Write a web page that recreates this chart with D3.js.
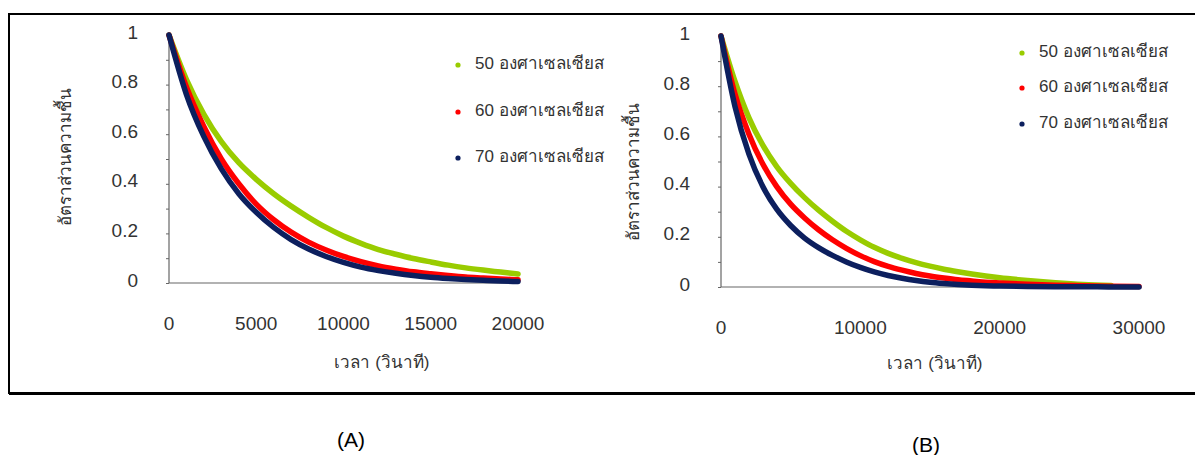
<!doctype html>
<html lang="th">
  <head>
    <meta charset="utf-8">
    <title>Moisture ratio</title>
    <script src="https://d3js.org/d3.v7.min.js"></script>
    <style>
      body { margin: 0; background: #fff; }
      text { font-family: "Liberation Sans", "Noto Sans", sans-serif; fill: #333; }
    </style>
  </head>
  <body>
    <div id="chart"></div>
    <script>

      // tick labels
      const yTicks = [0, 0.2, 0.4, 0.6, 0.8, 1];
      const xTicksA = [0, 5000, 10000, 15000, 20000];
      const xTicksB = [0, 10000, 20000, 30000];

      const seriesNames = ["50 องศาเซลเซียส", "60 องศาเซลเซียส", "70 องศาเซลเซียส"];
      const seriesNamesB = ["50 องศาเซลเซียส", "60  องศาเซลเซียส", "70  องศาเซลเซียส"];
      const colors = ["#99cc00", "#ff0000", "#0c1f5e"];

      // panel A (time in s, moisture ratio)
      const timeA = [0, 1000, 2000, 3000, 4000, 5000, 6000, 7000, 8000, 9000, 10000,
                     11000, 12000, 13000, 14000, 15000, 16000, 17000, 18000, 19000, 20000];
      const a50 = [1, 0.82, 0.68, 0.57, 0.485, 0.418, 0.36, 0.31, 0.265, 0.224, 0.189,
                   0.16, 0.135, 0.116, 0.099, 0.085, 0.072, 0.061, 0.052, 0.044, 0.036];
      const a60 = [1, 0.79, 0.63, 0.5, 0.4, 0.318, 0.255, 0.205, 0.165, 0.133, 0.107,
                   0.086, 0.069, 0.056, 0.045, 0.037, 0.03, 0.024, 0.02, 0.016, 0.013];
      const a70 = [1, 0.76, 0.59, 0.46, 0.36, 0.285, 0.224, 0.175, 0.137, 0.107, 0.083,
                   0.064, 0.05, 0.039, 0.03, 0.023, 0.018, 0.014, 0.011, 0.008, 0.006];

      // panel B
      const timeB = [0, 1000, 2000, 3000, 4000, 5000, 6000, 7000, 8000, 9000, 10000,
                     11000, 12000, 13000, 14000, 15000, 16000, 17000, 18000, 19000, 20000,
                     22000, 24000, 26000, 28000, 30000];
      const b50 = [1, 0.82, 0.675, 0.565, 0.48, 0.413, 0.356, 0.306, 0.262, 0.222, 0.188,
                   0.158, 0.134, 0.114, 0.097, 0.083, 0.071, 0.061, 0.052, 0.044, 0.037,
                   0.026, 0.017, 0.01, 0.006, null];
      const b60 = [1, 0.77, 0.61, 0.49, 0.4, 0.33, 0.275, 0.228, 0.188, 0.154, 0.125,
                   0.101, 0.082, 0.067, 0.054, 0.044, 0.036, 0.029, 0.024, 0.019, 0.016,
                   0.011, 0.007, 0.005, 0.003, 0.002];
      const b70 = [1, 0.72, 0.53, 0.4, 0.31, 0.245, 0.195, 0.157, 0.126, 0.1, 0.078,
                   0.06, 0.046, 0.035, 0.026, 0.019, 0.014, 0.01, 0.007, 0.005, 0.004,
                   0.002, 0.001, 0.001, 0, 0];

      const W = 1195, H = 455;
      const svg = d3.select("#chart").append("svg")
        .attr("width", W).attr("height", H);

      // outer frame
      svg.append("rect")
        .attr("x", 9).attr("y", 14)
        .attr("width", 1200).attr("height", 379)
        .attr("fill", "none").attr("stroke", "#000").attr("stroke-width", 2);
      svg.append("line")
        .attr("x1", 9).attr("x2", 1200).attr("y1", 393.5).attr("y2", 393.5)
        .attr("stroke", "#000").attr("stroke-width", 3);

      function panel(opt) {
        const x = d3.scaleLinear().domain(opt.xDomain).range(opt.xRange);
        const y = d3.scaleLinear().domain([0, 1]).range(opt.yRange);
        const g = svg.append("g");

        // y minor ticks
        g.append("g")
          .attr("transform", `translate(${opt.xRange[0]},0)`)
          .call(d3.axisLeft(y).ticks(10).tickSize(3).tickFormat(""))
          .call(s => s.selectAll("line,path").attr("stroke", "#666"))
          .call(s => s.select(".domain").remove());

        // y axis line and labels
        g.append("line")
          .attr("x1", opt.xRange[0]).attr("x2", opt.xRange[0])
          .attr("y1", y(1)).attr("y2", y(0))
          .attr("stroke", "#666").attr("stroke-width", 1.2);
        g.selectAll(".ylab").data(yTicks).join("text")
          .attr("x", opt.xRange[0] - 31)
          .attr("y", d => y(d) - 3)
          .attr("dy", "0.35em")
          .attr("text-anchor", "end")
          .attr("font-size", 19)
          .text(d => d);

        // x axis line and labels
        g.append("line")
          .attr("x1", opt.xRange[0]).attr("x2", opt.xRange[1])
          .attr("y1", y(0)).attr("y2", y(0))
          .attr("stroke", "#666").attr("stroke-width", 1.2);
        g.selectAll(".xlab").data(opt.xTicks).join("text")
          .attr("x", d => x(d))
          .attr("y", y(0) + 40)
          .attr("dy", "0.35em")
          .attr("text-anchor", "middle")
          .attr("font-size", 19)
          .text(d => d);

        // curves
        const line = d3.line()
          .defined(d => d.v != null)
          .x(d => x(d.t)).y(d => y(d.v))
          .curve(d3.curveMonotoneX);
        opt.series.forEach((vals, i) => {
          const pts = opt.time.map((t, j) => ({t: t, v: vals[j]}));
          g.append("path")
            .datum(pts)
            .attr("d", line)
            .attr("fill", "none")
            .attr("stroke", colors[i])
            .attr("stroke-width", 5.5)
            .attr("stroke-linecap", "round")
            .attr("stroke-linejoin", "round");
        });

        // legend
        opt.names.forEach((n, i) => {
          const ly = opt.legendY[i];
          g.append("circle")
            .attr("cx", opt.legendX).attr("cy", ly).attr("r", 2.6)
            .attr("fill", colors[i]);
          g.append("text")
            .attr("x", opt.legendX + 17).attr("y", ly - 2)
            .attr("dy", "0.35em")
            .attr("font-size", 17)
            .text(n);
        });

        // axis titles
        g.append("text")
          .attr("x", opt.xTitle[0]).attr("y", opt.xTitle[1])
          .attr("dy", "0.35em")
          .attr("text-anchor", "middle")
          .attr("font-size", 17)
          .text("เวลา (วินาที)");
        g.append("text")
          .attr("transform", `translate(${opt.yTitle[0]},${opt.yTitle[1]}) rotate(-90)`)
          .attr("dy", "0.35em")
          .attr("text-anchor", "middle")
          .attr("font-size", 17)
          .text("อัตราส่วนความชื้น");

        // panel caption
        svg.append("text")
          .attr("x", opt.caption[0]).attr("y", opt.caption[1])
          .attr("dy", "0.35em")
          .attr("text-anchor", "middle")
          .attr("font-size", 21)
          .style("fill", "#000")
          .text(opt.captionText);
      }

      panel({
        xDomain: [0, 20000], xRange: [169, 518], yRange: [283, 35],
        xTicks: xTicksA, time: timeA, series: [a50, a60, a70],
        names: seriesNames, legendX: 458, legendY: [65, 112, 158],
        xTitle: [382, 362], yTitle: [65, 157],
        caption: [351, 440], captionText: "(A)"
      });

      panel({
        xDomain: [0, 30000], xRange: [721, 1139], yRange: [287, 36],
        xTicks: xTicksB, time: timeB, series: [b50, b60, b70],
        names: seriesNamesB, legendX: 1022, legendY: [53, 88, 124],
        xTitle: [935, 363], yTitle: [633, 172],
        caption: [926, 445], captionText: "(B)"
      });

    </script>
  </body>
</html>
